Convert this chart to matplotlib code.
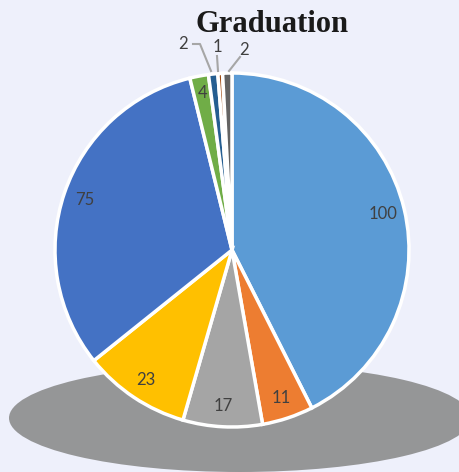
import matplotlib
matplotlib.use("Agg")
import matplotlib.pyplot as plt
from matplotlib.patches import Ellipse
import numpy as np

title = "Graduation"
values = [100, 11, 17, 23, 75, 4, 2, 1, 2]
colors = ["#5B9BD5", "#ED7D31", "#A5A5A5", "#FFC000", "#4472C4",
          "#70AD47", "#255E91", "#9E480E", "#636363"]
inside = [True, True, True, True, True, True, False, False, False]

W, H = 460, 472
fig = plt.figure(figsize=(W / 100, H / 100), dpi=100)
fig.patch.set_facecolor("#EEF0FB")
ax = fig.add_axes([0, 0, 1, 1])
ax.set_xlim(0, W)
ax.set_ylim(0, H)
ax.set_aspect("equal")
ax.axis("off")

# base shadow ellipse
ax.add_patch(Ellipse((240, H - 418), 462, 108, facecolor="#959697", edgecolor="none", zorder=1))

cx, cy, r = 232, H - 250, 177
wedges, _ = ax.pie(values, colors=colors, startangle=90, counterclock=False,
                   center=(cx, cy), radius=r, frame=True,
                   wedgeprops=dict(edgecolor="white", linewidth=2.5, zorder=2))
for w in wedges:
    w.set_zorder(2)
ax.set_xlim(0, W)
ax.set_ylim(0, H)
ax.axis("off")

total = sum(values)
cum = np.cumsum([0] + values)
lab_font = dict(fontsize=12, color="#404040", family=["Lato", "DejaVu Sans"])
for i, v in enumerate(values):
    mid = (cum[i] + cum[i + 1]) / 2 / total * 2 * np.pi
    ang = np.pi / 2 - mid
    if inside[i]:
        d = 0.88 * r if v > 5 else 0.9 * r
        ax.text(cx + d * np.cos(ang), cy + d * np.sin(ang), str(v),
                ha="center", va="center", zorder=3, **lab_font)

# outside labels with leader lines (pixel coords from top)
def P(x, y):
    return x, H - y

outs = [
    (6, (183, 44), [(193, 44), (200, 44), (211, 71)]),
    (7, (217, 47), [(217, 56), (218, 71)]),
    (8, (244, 50), [(240, 57), (229, 71)]),
]
for i, (lx, ly), pts in outs:
    ax.text(*P(lx, ly), str(values[i]), ha="center", va="center", zorder=3, **lab_font)
    xs = [p[0] for p in pts]
    ys = [H - p[1] for p in pts]
    ax.plot(xs, ys, color="#A6A6A6", lw=1.5, zorder=3)

ax.text(*P(272, 24), title, ha="center", va="center", fontsize=22,
        fontweight="bold", family=["Liberation Serif", "DejaVu Serif"], color="#1a1a1a", zorder=3)

fig.savefig("out.png", dpi=100, facecolor=fig.get_facecolor())
